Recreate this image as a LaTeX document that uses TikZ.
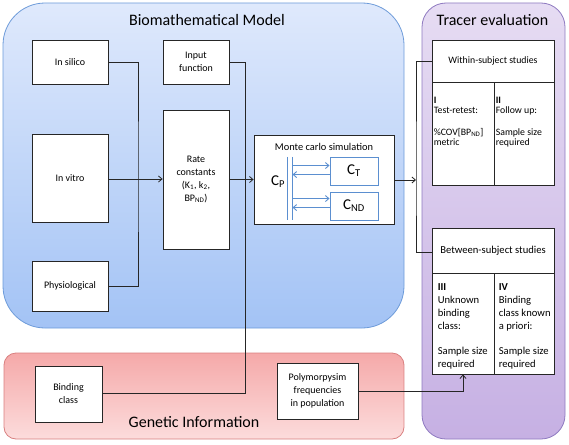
\documentclass[tikz,border=0pt]{standalone}
\usepackage{fontspec}
\setmainfont{Carlito}
\usetikzlibrary{arrows.meta}
\definecolor{bluetop}{HTML}{DFE9FC}
\definecolor{bluebot}{HTML}{A3C3F5}
\definecolor{blueedge}{HTML}{6D9BD9}
\definecolor{redtop}{HTML}{F5A9A9}
\definecolor{redbot}{HTML}{FCDCDC}
\definecolor{rededge}{HTML}{D98080}
\definecolor{purtop}{HTML}{E6DCF3}
\definecolor{purbot}{HTML}{C6B0E3}
\definecolor{puredge}{HTML}{8E79C0}
\definecolor{bluel}{HTML}{5B8FD0}
\begin{document}
\begin{tikzpicture}[x=1pt,y=-1pt]
\tikzset{
 box/.style={draw=black!85, fill=white, line width=0.8pt, inner sep=0pt, font=\fontsize{10}{13}\selectfont, align=center},
 bbox/.style={draw=bluel, fill=white, line width=0.9pt, inner sep=0pt, font=\fontsize{15}{17}\selectfont},
 conn/.style={line width=0.8pt, draw=black!85},
 arr/.style={conn, -{Straight Barb[length=3.5pt,width=6pt]}},
 bline/.style={line width=0.9pt, draw=bluel},
 barr/.style={bline, -{Straight Barb[length=3.5pt,width=6pt]}},
 paneltitle/.style={font=\fontsize{16}{18}\selectfont, inner sep=0pt},
 cell/.style={draw=black!85, fill=white, line width=0.8pt, inner sep=0pt},
 wtxt/.style={anchor=north west, align=left, inner sep=0pt, font=\fontsize{9.8}{10.5}\selectfont},
 btxt/.style={anchor=north west, align=left, inner sep=0pt, font=\fontsize{10.6}{12.8}\selectfont},
}
\useasboundingbox (0,0) rectangle (569,444);
% panels
\path[draw=blueedge, line width=0.8pt, top color=bluetop, bottom color=bluebot, rounded corners=42pt] (3,3) rectangle (404,328);
\path[draw=rededge, line width=0.8pt, top color=redtop, bottom color=redbot, rounded corners=12pt] (4,353) rectangle (404,439);
\path[draw=puredge, line width=0.8pt, top color=purtop, bottom color=purbot, rounded corners=24pt] (422,3) rectangle (565,439);
\node[paneltitle] (tbio) at (207,20) {Biomathematical Model};
\node[paneltitle] (ttr) at (492.5,20) {Tracer evaluation};
\node[paneltitle] (tgen) at (194,422) {Genetic Information};
% boxes
\node[box, minimum width=76pt, minimum height=44pt] (insilico) at (70,62) {In silico};
\node[box, minimum width=66pt, minimum height=44pt] (input) at (196,62) {Input\\function};
\node[box, minimum width=76pt, minimum height=88pt] (invitro) at (70,178) {In vitro};
\node[box, minimum width=66pt, minimum height=139pt] (rate) at (196,179.5) {Rate\\constants\\(K\textsubscript{1}, k\textsubscript{2},\\BP\textsubscript{ND})};
\node[box, minimum width=76pt, minimum height=50pt] (phys) at (70,286) {Physiological};
\node[box, minimum width=140pt, minimum height=89pt] (mc) at (324,179.5) {};
\node[inner sep=0pt, font=\fontsize{10.4}{12}\selectfont] (mctitle) at (324,147) {Monte carlo simulation};
\node[bbox, minimum width=48pt, minimum height=28pt] (ct) at (354,171) {C\textsubscript{T}};
\node[bbox, minimum width=48pt, minimum height=28pt] (cnd) at (354,206) {C\textsubscript{ND}};
\node[inner sep=0pt, minimum width=5pt, minimum height=63pt] (cpbar) at (289.8,188.5) {};
\node[inner sep=0pt, font=\fontsize{15}{17}\selectfont] (cp) at (278,182) {C\textsubscript{P}};
\draw[bline] (cpbar.north west) -- (cpbar.south west);
\draw[bline] (cpbar.north east) -- (cpbar.south east);
\draw[barr] ([yshift=-9pt]cpbar.east |- ct.north) -- ([yshift=-9pt]ct.north west);
\draw[barr] ([yshift=-18pt]ct.north west) -- ([yshift=-18pt]cpbar.east |- ct.north);
\draw[barr] ([yshift=-7pt]cpbar.east |- cnd.north) -- ([yshift=-7pt]cnd.north west);
\draw[barr] ([yshift=-16pt]cnd.north west) -- ([yshift=-16pt]cpbar.east |- cnd.north);
\node[box, minimum width=67pt, minimum height=56pt] (binding) at (68.5,394) {Binding\\class};
\node[box, minimum width=81pt, minimum height=56pt] (poly) at (317.5,391) {Polymorpysim\\frequencies\\in population};
% tracer evaluation tables
\node[cell, minimum width=122pt, minimum height=42pt, font=\fontsize{9.8}{11}\selectfont] (within) at (493,61) {Within-subject studies};
\node[cell, minimum width=62pt, minimum height=103pt] (cellI) at (463,133.5) {};
\node[cell, minimum width=60pt, minimum height=103pt] (cellII) at (524,133.5) {};
\node[wtxt] (txtI) at ([xshift=2pt,yshift=-15pt]cellI.north west) {\textbf{I}\\Test-retest:\\[11pt]\%COV[BP\textsubscript{ND}]\\metric};
\node[wtxt] (txtII) at ([xshift=2pt,yshift=-15pt]cellII.north west) {\textbf{II}\\Follow up:\\[11pt]Sample size\\required};
\node[cell, minimum width=122pt, minimum height=45pt, font=\fontsize{10.6}{12}\selectfont] (between) at (493,250.5) {Between-subject studies};
\node[cell, minimum width=62pt, minimum height=101pt] (cellIII) at (463,323.5) {};
\node[cell, minimum width=60pt, minimum height=101pt] (cellIV) at (524,323.5) {};
\node[btxt] (txtIII) at ([xshift=6pt,yshift=-11pt]cellIII.north west) {\textbf{III}\\Unknown\\binding\\class:\\[12.8pt]Sample size\\required};
\node[btxt] (txtIV) at ([xshift=5pt,yshift=-11pt]cellIV.north west) {\textbf{IV}\\Binding\\class known\\a priori:\\[12.8pt]Sample size\\required};
% connectors
\coordinate (bx) at (138,179);
\draw[conn] (insilico.east) -| (bx) |- (phys.east);
\draw[arr] (invitro.east |- bx) -- (rate.west |- bx);
\coordinate (ix) at (245.5,393);
\draw[conn] (input.east) -| (ix) -- (binding.east |- ix);
\draw[arr] (rate.east) -- (mc.west);
\coordinate (tx) at (416,180);
\draw[arr] (mc.east |- tx) -- (tx);
\draw[conn] (within.west) -| (tx) |- ([yshift=-2pt]between.west);
\draw[arr] (poly.east) -| (cellIII.south);
\end{tikzpicture}
\end{document}
